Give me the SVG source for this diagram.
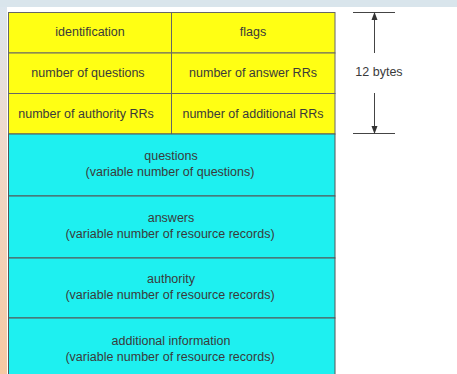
<svg xmlns="http://www.w3.org/2000/svg" width="457" height="374" viewBox="0 0 457 374">
  <defs>
    <linearGradient id="edge" x1="0" y1="0" x2="0" y2="1">
      <stop offset="0" stop-color="#dce6ee"/>
      <stop offset="0.35" stop-color="#efd9cc"/>
      <stop offset="1" stop-color="#f6c8a2"/>
    </linearGradient>
    <marker id="arrow" viewBox="0 0 8 8" refX="7" refY="4" markerWidth="8" markerHeight="8" markerUnits="userSpaceOnUse" orient="auto">
      <path d="M0,1 L8,4 L0,7 z" fill="#333"/>
    </marker>
    <style>
      text { font-family: "Liberation Sans", Arial, sans-serif; font-size: 12.5px; fill: #3a3a3a; text-anchor: middle; }
      .hdr { fill: #ffff14; stroke: #666; stroke-width: 1; }
      .body { fill: #1ef0f0; stroke: #555; stroke-width: 1; }
      .dim { stroke: #444; stroke-width: 1; fill: none; }
    </style>
  </defs>

  <!-- page background -->
  <rect x="0" y="0" width="457" height="374" fill="#fff"/>
  <rect x="0" y="0" width="457" height="7" fill="#d9e5ec"/>
  <rect x="0" y="7" width="7" height="367" fill="url(#edge)"/>

  <!-- header fields (12 bytes) -->
  <g id="identification">
    <rect class="hdr" x="8.5" y="12.5" width="163" height="40.5"/>
    <text x="90" y="36">identification</text>
  </g>
  <g id="flags">
    <rect class="hdr" x="171.5" y="12.5" width="163.5" height="40.5"/>
    <text x="253" y="36">flags</text>
  </g>
  <g id="num-questions">
    <rect class="hdr" x="8.5" y="53" width="163" height="40.5"/>
    <text x="88" y="77">number of questions</text>
  </g>
  <g id="num-answer-rrs">
    <rect class="hdr" x="171.5" y="53" width="163.5" height="40.5"/>
    <text x="253" y="77">number of answer RRs</text>
  </g>
  <g id="num-authority-rrs">
    <rect class="hdr" x="8.5" y="93.5" width="163" height="40.5"/>
    <text x="86" y="118">number of authority RRs</text>
  </g>
  <g id="num-additional-rrs">
    <rect class="hdr" x="171.5" y="93.5" width="163.5" height="40.5"/>
    <text x="253" y="118">number of additional RRs</text>
  </g>

  <!-- variable-length sections -->
  <g id="questions">
    <rect class="body" x="8.5" y="134" width="326.5" height="62"/>
    <text x="171" y="160">questions</text>
    <text x="170" y="176">(variable number of questions)</text>
  </g>
  <g id="answers">
    <rect class="body" x="8.5" y="196" width="326.5" height="62"/>
    <text x="171" y="222">answers</text>
    <text x="170" y="238">(variable number of resource records)</text>
  </g>
  <g id="authority">
    <rect class="body" x="8.5" y="258" width="326.5" height="60"/>
    <text x="171" y="283">authority</text>
    <text x="170" y="299">(variable number of resource records)</text>
  </g>
  <g id="additional">
    <rect class="body" x="8.5" y="318" width="326.5" height="60"/>
    <text x="171" y="345">additional information</text>
    <text x="170" y="361">(variable number of resource records)</text>
  </g>

  <!-- header size dimension -->
  <g id="connectors">
    <line class="dim" x1="353" y1="12.5" x2="395" y2="12.5"/>
    <line class="dim" x1="353" y1="133.5" x2="395" y2="133.5"/>
    <line class="dim" x1="374.5" y1="53" x2="374.5" y2="13" marker-end="url(#arrow)"/>
    <line class="dim" x1="374.5" y1="93" x2="374.5" y2="133" marker-end="url(#arrow)"/>
  </g>
  <g id="size-label">
    <text x="379" y="76">12 bytes</text>
  </g>
</svg>
